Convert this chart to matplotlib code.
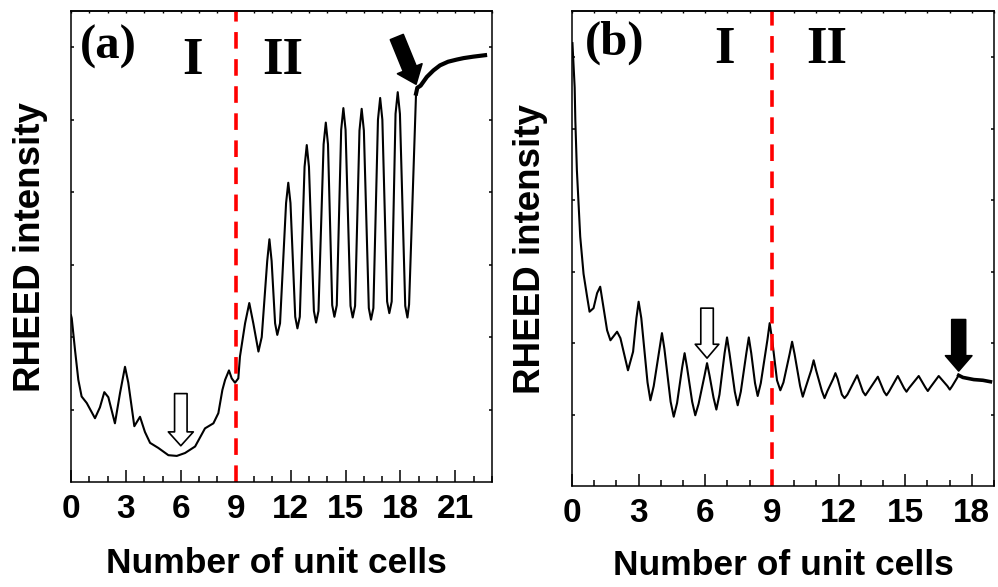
import numpy as np
import matplotlib
matplotlib.use('Agg')
import matplotlib.pyplot as plt

plt.rcParams['font.family'] = ['Liberation Sans', 'DejaVu Sans']
plt.rcParams['font.weight'] = 'bold'

# ---- panel (a): RHEED trace ----
a_x = [0.00, 0.04, 0.22, 0.40, 0.58, 0.86, 1.31, 1.58, 1.82, 2.04, 2.40, 2.68,
       2.95, 3.13, 3.46, 3.77, 4.04, 4.32, 4.77, 5.32, 5.78, 6.23, 6.78, 7.32,
       7.78, 8.05, 8.27, 8.42, 8.63, 8.78, 8.96, 9.14, 9.23, 9.51, 9.74, 9.96,
       10.24, 10.42, 10.72, 10.84, 10.96, 11.15, 11.27, 11.42,
       11.75, 11.87, 11.99, 12.25, 12.37, 12.50,
       12.76, 12.88, 13.00, 13.27, 13.39, 13.52,
       13.80, 13.92, 14.04, 14.27, 14.39, 14.52,
       14.76, 14.88, 15.00, 15.27, 15.39, 15.52,
       15.76, 15.88, 16.00, 16.27, 16.39, 16.52,
       16.77, 16.89, 17.01, 17.27, 17.39, 17.52,
       17.73, 17.85, 17.97, 18.26, 18.38, 18.47, 18.85]
a_y = [2.30, 2.26, 1.82, 1.41, 1.18, 1.09, 0.88, 1.03, 1.24, 1.17, 0.81, 1.23,
       1.59, 1.37, 0.77, 0.90, 0.69, 0.54, 0.47, 0.37, 0.36, 0.40, 0.49, 0.74,
       0.81, 0.95, 1.27, 1.41, 1.54, 1.43, 1.37, 1.43, 1.73, 2.19, 2.47, 2.19,
       1.80, 2.00, 3.05, 3.35, 3.05, 2.19, 2.03, 2.19,
       3.85, 4.13, 3.85, 2.28, 2.12, 2.28,
       4.35, 4.65, 4.35, 2.36, 2.20, 2.36,
       4.66, 4.96, 4.66, 2.44, 2.28, 2.44,
       4.86, 5.16, 4.86, 2.43, 2.27, 2.43,
       4.85, 5.15, 4.85, 2.40, 2.24, 2.40,
       5.00, 5.30, 5.00, 2.49, 2.33, 2.49,
       5.08, 5.38, 5.08, 2.43, 2.27, 2.45, 5.36]
# noisy plateau after growth stops
a_tail_x = [18.85, 18.92, 19.10, 19.44, 19.80, 20.16, 20.60, 21.08, 21.45,
            21.98, 22.62]
a_tail_y = [5.36, 5.44, 5.47, 5.59, 5.68, 5.75, 5.80, 5.83, 5.85, 5.87, 5.89]

# ---- panel (b) ----
b_x = [0.02, 0.12, 0.15, 0.22, 0.37, 0.52, 0.68, 0.79, 0.97, 1.13, 1.27, 1.58,
       1.73, 2.03, 2.18, 2.52, 2.75, 2.90, 3.00, 3.12, 3.40, 3.53, 3.68,
       3.94, 4.05, 4.16, 4.44, 4.58, 4.73,
       4.96, 5.07, 5.18, 5.41, 5.55, 5.70,
       5.97, 6.08, 6.19, 6.37, 6.50, 6.64,
       6.87, 6.98, 7.09, 7.33, 7.46, 7.60,
       7.85, 7.96, 8.07, 8.24, 8.36, 8.50,
       8.80, 8.90, 9.01, 9.23, 9.38, 9.52,
       9.80, 9.91, 10.02, 10.27, 10.39, 10.52,
       10.77, 10.88, 10.99, 11.25, 11.37, 11.50,
       11.76, 11.86, 11.96, 12.15, 12.27, 12.40,
       12.84, 13.10, 13.21, 13.32, 13.77, 14.05, 14.16, 14.27, 14.67,
       14.95, 15.06, 15.17, 15.61, 15.91, 16.02, 16.13, 16.51, 16.90, 17.01,
       17.12, 17.41]
b_y = [6.20, 5.58, 5.12, 4.42, 3.49, 2.97, 2.65, 2.44, 2.49, 2.70, 2.79, 2.18,
       2.04, 2.16, 2.07, 1.62, 1.88, 2.35, 2.58, 2.35, 1.45, 1.20, 1.40,
       1.92, 2.14, 1.92, 1.18, 0.97, 1.16,
       1.66, 1.86, 1.66, 1.18, 0.99, 1.15,
       1.55, 1.72, 1.55, 1.24, 1.07, 1.28,
       1.86, 2.08, 1.86, 1.32, 1.13, 1.32,
       1.86, 2.08, 1.86, 1.44, 1.26, 1.44,
       2.05, 2.28, 2.05, 1.48, 1.34, 1.45,
       1.85, 2.02, 1.85, 1.40, 1.25, 1.38,
       1.62, 1.76, 1.62, 1.33, 1.23, 1.33,
       1.50, 1.58, 1.50, 1.28, 1.23, 1.28,
       1.55, 1.32, 1.27, 1.32, 1.53, 1.32, 1.27, 1.32, 1.54,
       1.37, 1.32, 1.37, 1.54, 1.38, 1.33, 1.38, 1.54, 1.40, 1.35,
       1.40, 1.55]
b_tail_x = [17.41, 17.60, 18.09, 18.50, 18.84]
b_tail_y = [1.55, 1.52, 1.49, 1.48, 1.46]

a_xticks = [0, 3, 6, 9, 12, 15, 18, 21]
b_xticks = [0, 3, 6, 9, 12, 15, 18]
boundary = 9


def style_axes(ax, xmax, ymax, xmajor):
    ax.set_xlim(0, xmax)
    ax.set_ylim(0, ymax)
    ax.set_xticks(xmajor)
    ax.set_xticks(np.arange(0, xmax + 1), minor=True)
    ax.set_yticks([1, 2, 3, 4, 5, 6])
    ax.set_yticklabels([])
    ax.tick_params(axis='x', which='major', direction='in', length=9, width=1.1,
                   top=False, pad=9, labelsize=24)
    ax.tick_params(axis='x', which='minor', direction='in', length=4.5,
                   width=1.1, top=False)
    ax.tick_params(axis='y', which='major', direction='in', length=2.5,
                   width=1.1, left=True, right=True)
    top = ax.secondary_xaxis('top')
    top.set_xticks(np.arange(0, xmax + 1))
    top.tick_params(direction='in', length=1.5, width=1, labeltop=False)
    top.spines['top'].set_linewidth(1.1)
    for s in ax.spines.values():
        s.set_linewidth(1.1)
    ax.axvline(boundary, color='#ff0000', lw=2.6, linestyle=(0, (4.6, 2.9)))


def arrow(ax, tip, tail, face, hl, hw, tw):
    ax.annotate('', xy=tip, xytext=tail,
                arrowprops=dict(arrowstyle='simple,head_length=%g,head_width=%g,tail_width=%g' % (hl, hw, tw),
                                fc=face, ec='black', lw=1.2,
                                shrinkA=0, shrinkB=0, mutation_scale=20))


fig = plt.figure(figsize=(9.98, 5.87), dpi=100)
ax_a = fig.add_axes([71/998, 105/587, 421/998, 471/587])
ax_b = fig.add_axes([572/998, 101/587, 422/998, 475/587])

# panel a
ax_a.plot(a_x, a_y, color='black', lw=1.5)
ax_a.plot(a_tail_x, a_tail_y, color='black', lw=3.0)
style_axes(ax_a, 23, 6.5, a_xticks)
arrow(ax_a, (6.0, 0.50), (6.0, 1.22), 'white', 0.5, 0.9, 0.45)
arrow(ax_a, (18.85, 5.49), (17.8, 6.14), 'black', 0.6, 0.95, 0.5)
ax_a.text(0.021, 0.924, '(a)', transform=ax_a.transAxes, family='Liberation Serif',
          weight='bold', fontsize=35, ha='left', va='center')
ax_a.text(6.64, 0.894, 'I', transform=ax_a.get_xaxis_transform(),
          family='Liberation Serif', weight='bold', fontsize=38, ha='center', va='center')
ax_a.text(11.56, 0.894, 'II', transform=ax_a.get_xaxis_transform(),
          family='Liberation Serif', weight='bold', fontsize=38, ha='center', va='center')
ax_a.set_xlabel('Number of unit cells', fontsize=25.5, fontweight='bold')
ax_a.xaxis.set_label_coords(0.487, -0.172)
ax_a.xaxis.label.set_va('center')
ax_a.set_ylabel('RHEED intensity', fontsize=26.5, fontweight='bold')
ax_a.yaxis.set_label_coords(-0.097, 0.5)
ax_a.yaxis.label.set_va('center')

# panel b
ax_b.plot(b_x, b_y, color='black', lw=1.5)
ax_b.plot(b_tail_x, b_tail_y, color='black', lw=2.6)
style_axes(ax_b, 19, 6.65, b_xticks)
arrow(ax_b, (6.08, 1.79), (6.08, 2.49), 'white', 0.5, 0.85, 0.45)
arrow(ax_b, (17.41, 1.61), (17.41, 2.33), 'black', 0.55, 0.95, 0.5)
ax_b.text(0.03, 0.934, '(b)', transform=ax_b.transAxes, family='Liberation Serif',
          weight='bold', fontsize=35, ha='left', va='center')
ax_b.text(6.86, 0.918, 'I', transform=ax_b.get_xaxis_transform(),
          family='Liberation Serif', weight='bold', fontsize=38, ha='center', va='center')
ax_b.text(11.46, 0.918, 'II', transform=ax_b.get_xaxis_transform(),
          family='Liberation Serif', weight='bold', fontsize=38, ha='center', va='center')
ax_b.set_xlabel('Number of unit cells', fontsize=25.5, fontweight='bold')
ax_b.xaxis.set_label_coords(0.5, -0.168)
ax_b.xaxis.label.set_va('center')
ax_b.set_ylabel('RHEED intensity', fontsize=26.5, fontweight='bold')
ax_b.yaxis.set_label_coords(-0.0995, 0.5)
ax_b.yaxis.label.set_va('center')

fig.savefig('out.png', dpi=100)
